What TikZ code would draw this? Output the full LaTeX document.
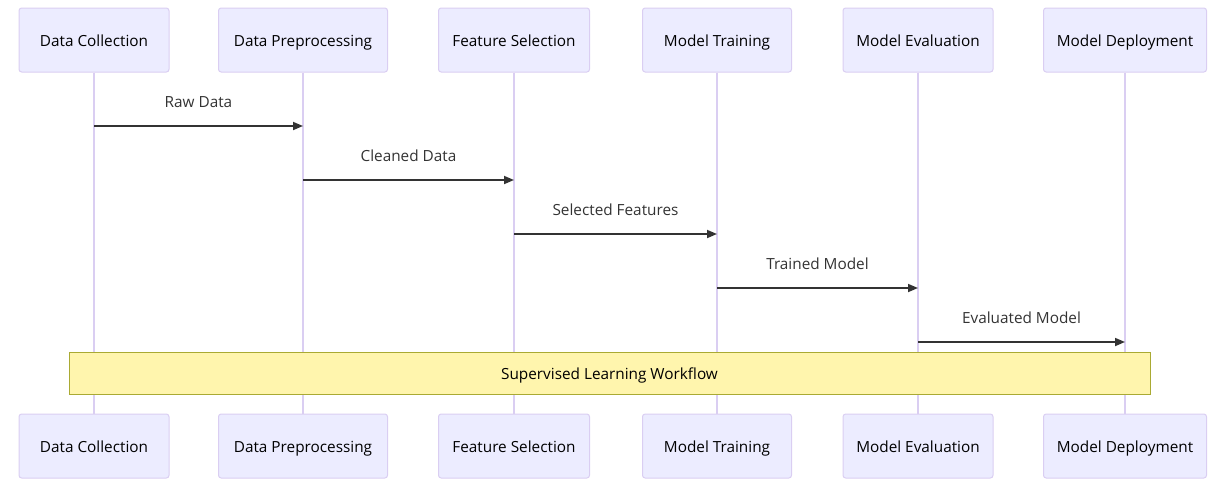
\documentclass[tikz,border=0pt]{standalone}
\usepackage{fontspec}
\setmainfont{Open Sans}
\usetikzlibrary{arrows.meta}

\definecolor{actorfill}{HTML}{ECECFF}
\definecolor{actorline}{HTML}{DACEF2}
\definecolor{notefill}{HTML}{FFF5AD}
\definecolor{noteline}{HTML}{AAAA33}
\definecolor{msgline}{HTML}{333333}

\tikzset{
    actor/.style={draw=actorline, fill=actorfill, rounded corners=2pt, line width=0.75pt,
        minimum height=48pt, inner sep=0pt, text height=10.7pt, text depth=1pt,
        font=\fontsize{11.5}{13}\selectfont},
    lifeline/.style={draw=actorline, line width=1.1pt},
    msg/.style={draw=msgline, line width=1.3pt, -{Triangle[length=7.5pt, width=6pt]}},
    msglabel/.style={text=msgline, font=\fontsize{11.5}{13}\selectfont},
    note/.style={draw=noteline, fill=notefill, line width=0.75pt, inner sep=0pt,
        minimum width=1081*0.75pt, minimum height=42*0.75pt, text height=10.7pt, text depth=1pt,
        font=\fontsize{11.5}{13}\selectfont}
}

\begin{document}
\begin{tikzpicture}[x=0.75pt, y=-0.75pt]

\useasboundingbox (0,0) rectangle (1220,501);

% actors and lifelines
\foreach \name/\x/\w/\txt in {col/94/150/Data Collection, pre/303/169/Data Preprocessing,
        sel/514/151/Feature Selection, trn/717/149/Model Training,
        evl/918/150/Model Evaluation, dep/1125/163/Model Deployment} {
    \node[actor, minimum width=\w*0.75pt] (\name-top) at (\x, 40) {\txt};
    \node[actor, minimum width=\w*0.75pt] (\name-bot) at (\x, 446) {\txt};
    \draw[lifeline] (\name-top) -- (\name-bot);
}

% message rows
\foreach \i/\y in {1/126, 2/180, 3/234, 4/288, 5/342}
    \coordinate (row\i) at (0, \y);

% messages
\draw[msg] (col-top |- row1) -- node[msglabel, above=9.5pt] {Raw Data} (pre-top |- row1);
\draw[msg] (pre-top |- row2) -- node[msglabel, above=9.5pt] {Cleaned Data} (sel-top |- row2);
\draw[msg] (sel-top |- row3) -- node[msglabel, above=9.5pt] {Selected Features} (trn-top |- row3);
\draw[msg] (trn-top |- row4) -- node[msglabel, above=9.5pt] {Trained Model} (evl-top |- row4);
\draw[msg] (evl-top |- row5) -- node[msglabel, above=9.5pt] {Evaluated Model} (dep-top |- row5);

% note
\node[note] (flow) at (609.5, 373) {Supervised Learning Workflow};

\end{tikzpicture}
\end{document}
